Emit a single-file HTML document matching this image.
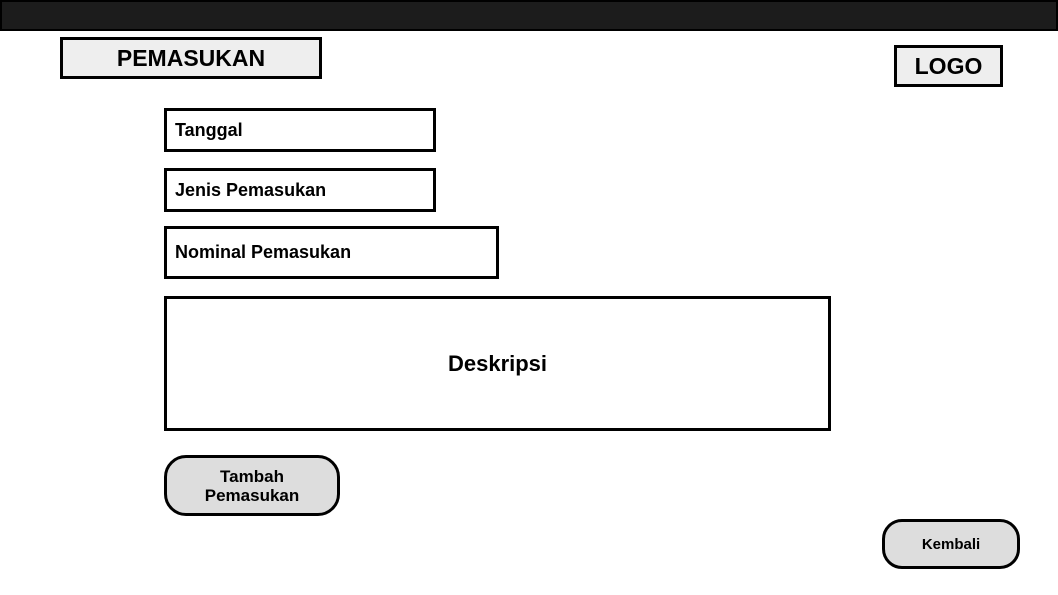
<!DOCTYPE html>
<html><head><style>
body{margin:0;width:1058px;height:595px;background:#fff;position:relative;overflow:hidden;font-family:"Liberation Sans",sans-serif;font-weight:bold;color:#000}
div{position:absolute;box-sizing:border-box;border:3px solid #000}
.l{display:flex;align-items:center;padding-left:8px;font-size:18px;background:#fff}
.c{display:flex;align-items:center;justify-content:center;text-align:center}
</style></head><body>
<div style="left:0;top:0;width:1058px;height:31px;background:#1c1c1c;border-width:2px"></div>
<div class="c" style="left:60px;top:37px;width:262px;height:42px;background:#eee;font-size:23px">PEMASUKAN</div>
<div class="c" style="left:894px;top:45px;width:109px;height:42px;background:#eee;font-size:23px">LOGO</div>
<div class="l" style="left:164px;top:108px;width:272px;height:44px">Tanggal</div>
<div class="l" style="left:164px;top:168px;width:272px;height:44px">Jenis Pemasukan</div>
<div class="l" style="left:164px;top:226px;width:335px;height:53px">Nominal Pemasukan</div>
<div class="c" style="left:164px;top:296px;width:667px;height:135px;font-size:22px;background:#fff">Deskripsi</div>
<div class="c" style="left:164px;top:455px;width:176px;height:61px;border-radius:22px;background:#ddd;font-size:17px;line-height:19px">Tambah<br>Pemasukan</div>
<div class="c" style="left:882px;top:519px;width:138px;height:50px;border-radius:20px;background:#ddd;font-size:15px">Kembali</div>
</body></html>
